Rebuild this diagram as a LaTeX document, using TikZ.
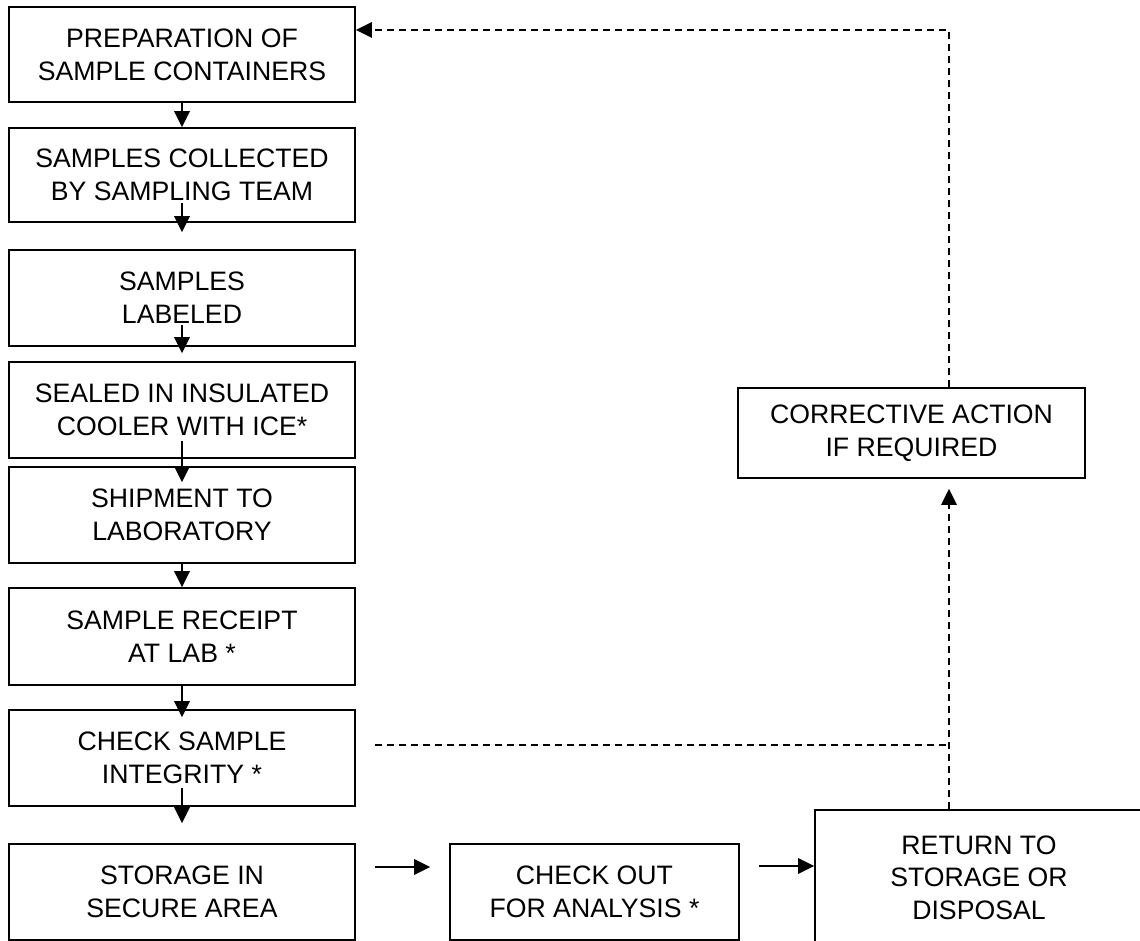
\documentclass[tikz,border=0pt]{standalone}
\usepackage{fontspec}
\setmainfont{Liberation Sans}
\usetikzlibrary{arrows.meta}
\begin{document}
\begin{tikzpicture}[x=0.75pt,y=-0.75pt,
  box/.style={draw,line width=1.3pt,align=center,inner sep=0pt,
    font=\fontsize{20pt}{24.5pt}\selectfont},
  wh/.style 2 args={minimum width=#1*0.75pt,minimum height=#2*0.75pt},
  arr/.style={line width=1.5pt,-{Triangle[length=12pt,width=11.5pt]}},
  dsh/.style={line width=1.4pt,dash pattern=on 5.5pt off 3.5pt}]
\useasboundingbox (0,0) rectangle (1140,941);
\clip (0,0) rectangle (1140,941);

\node[box,wh={346}{95}] (b1) at (182,54.5) {PREPARATION OF\\SAMPLE CONTAINERS};
\node[box,wh={346}{94}] (b2) at (182,175) {SAMPLES COLLECTED\\BY SAMPLING TEAM};
\node[box,wh={346}{96}] (b3) at (182,298) {SAMPLES\\LABELED};
\node[box,wh={346}{96}] (b4) at (182,410) {SEALED IN INSULATED\\COOLER WITH ICE*};
\node[box,wh={346}{96}] (b5) at (182,515) {SHIPMENT TO\\LABORATORY};
\node[box,wh={346}{97}] (b6) at (182,636.5) {SAMPLE RECEIPT\\AT LAB *};
\node[box,wh={346}{96}] (b7) at (182,758) {CHECK SAMPLE\\INTEGRITY *};
\node[box,wh={346}{96}] (b8) at (182,892) {STORAGE IN\\SECURE AREA};
\node[box,wh={289}{96}] (co) at (594.5,892) {CHECK OUT\\FOR ANALYSIS *};
\node[box,wh={328}{135}] (rt) at (979,877.5) {RETURN TO\\STORAGE OR\\DISPOSAL};
\node[box,wh={347}{90}] (ca) at (911.5,433) {CORRECTIVE ACTION\\IF REQUIRED};

% left column arrows
\draw[arr] (b1.south) -- (b2.north);
\draw[arr] ([yshift=15pt]b2.south) -- ([yshift=12.75pt]b3.north);
\draw[arr] ([yshift=16.5pt]b3.south) -- ([yshift=6pt]b4.north);
\draw[arr] ([yshift=13.5pt]b4.south) -- ([yshift=-12pt]b5.north);
\draw[arr] (b5.south) -- (b6.north);
\draw[arr] (b6.south) -- ([yshift=-6pt]b7.north);
\draw[arr] ([yshift=14.25pt]b7.south) -- ([yshift=15pt]b8.north);

% bottom row arrows
\coordinate (coW) at ([xshift=-14.25pt]co.west);
\draw[arr] ([xshift=14.25pt,yshift=18.75pt]b8.east) coordinate (s1) -- (s1 -| coW);
\draw[arr] ([xshift=14.25pt,yshift=19.5pt]co.east) coordinate (s2) -- (s2 -| rt.west);

% dashed feedback
\coordinate (r1) at ([xshift=-22.5pt]rt.north);
\coordinate (caB) at ([yshift=-7.5pt]ca.south);
\draw[dsh,arr] (r1) -- (r1 |- caB);
\draw[dsh] ([xshift=14.25pt,yshift=9.75pt]b7.east) coordinate (h1) -- (h1 -| r1);
\coordinate (t1) at ([yshift=18.4pt]b1.east);
\draw[dsh,arr] (r1 |- ca.north) -- (r1 |- t1) -- (t1);
\end{tikzpicture}
\end{document}
